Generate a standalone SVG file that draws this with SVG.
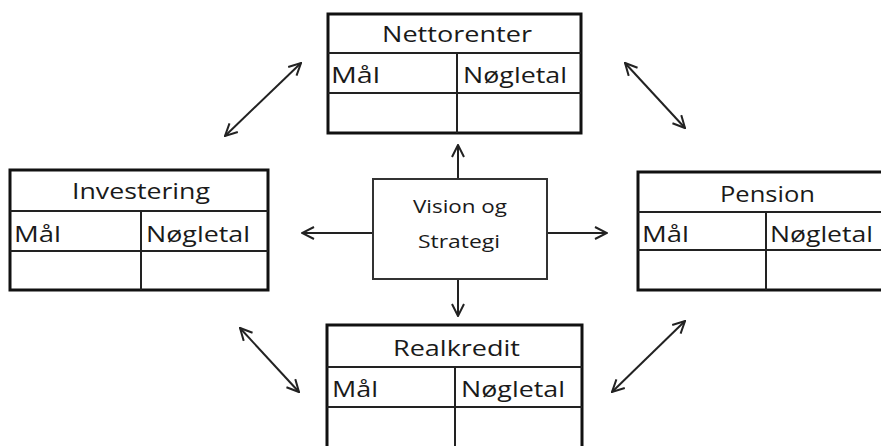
<svg xmlns="http://www.w3.org/2000/svg" width="881" height="446" viewBox="0 0 881 446">
  <style>
    .frame { fill: #fff; stroke: #111; stroke-width: 3; }
    .grid { stroke: #222; stroke-width: 2; fill: none; }
    .hub { fill: #fff; stroke: #333; stroke-width: 2; }
    .head { font-family: "Open Sans", "Liberation Sans", sans-serif; font-size: 21px; fill: #1a1a1a; }
    .cell { font-family: "Open Sans", "Liberation Sans", sans-serif; font-size: 21px; fill: #1a1a1a; }
    .hubtext { font-family: "Open Sans", "Liberation Sans", sans-serif; font-size: 18px; fill: #1a1a1a; }
    .link { stroke: #222; stroke-width: 2; fill: none; }
  </style>
  <defs>
    <marker id="open" viewBox="0 0 14 14" refX="13" refY="7" markerWidth="14" markerHeight="14" markerUnits="userSpaceOnUse" orient="auto-start-reverse">
      <path d="M1,1 L13,7 L1,13" fill="none" stroke="#222" stroke-width="2"/>
    </marker>
  </defs>
  <rect width="881" height="446" fill="#fff"/>

  <g id="connectors">
    <line class="link" x1="458" y1="179" x2="458" y2="145" marker-end="url(#open)"/>
    <line class="link" x1="458" y1="279" x2="458" y2="316" marker-end="url(#open)"/>
    <line class="link" x1="547" y1="233" x2="607" y2="233" marker-end="url(#open)"/>
    <line class="link" x1="373" y1="233" x2="302" y2="233" marker-end="url(#open)"/>
    <line class="link" x1="225" y1="136" x2="301" y2="63" marker-start="url(#open)" marker-end="url(#open)"/>
    <line class="link" x1="625" y1="63" x2="685" y2="128" marker-start="url(#open)" marker-end="url(#open)"/>
    <line class="link" x1="240" y1="328" x2="299" y2="392" marker-start="url(#open)" marker-end="url(#open)"/>
    <line class="link" x1="612" y1="392" x2="685" y2="321" marker-start="url(#open)" marker-end="url(#open)"/>
  </g>

  <g id="vision">
    <rect class="hub" x="373" y="179" width="174" height="100"/>
    <text class="hubtext" x="413" y="213" textLength="94" lengthAdjust="spacingAndGlyphs">Vision og</text>
    <text class="hubtext" x="418" y="248" textLength="82" lengthAdjust="spacingAndGlyphs">Strategi</text>
  </g>

  <g id="nettorenter">
    <rect class="frame" x="328" y="14" width="253" height="119"/>
    <path class="grid" d="M328,53 H581 M328,93 H581 M457,53 V133"/>
    <text class="head" x="382" y="42" textLength="150" lengthAdjust="spacingAndGlyphs">Nettorenter</text>
    <text class="cell" x="331" y="83" textLength="49" lengthAdjust="spacingAndGlyphs">Mål</text>
    <text class="cell" x="463" y="83" textLength="104" lengthAdjust="spacingAndGlyphs">Nøgletal</text>
  </g>

  <g id="investering">
    <rect class="frame" x="10" y="170" width="258" height="120"/>
    <path class="grid" d="M10,211 H268 M10,251 H268 M141,211 V290"/>
    <text class="head" x="72" y="199" textLength="138" lengthAdjust="spacingAndGlyphs">Investering</text>
    <text class="cell" x="14" y="242" textLength="47" lengthAdjust="spacingAndGlyphs">Mål</text>
    <text class="cell" x="146" y="242" textLength="104" lengthAdjust="spacingAndGlyphs">Nøgletal</text>
  </g>

  <g id="pension">
    <rect class="frame" x="638" y="172" width="250" height="118"/>
    <path class="grid" d="M638,212 H888 M638,250 H888 M766,212 V290"/>
    <text class="head" x="720" y="202" textLength="95" lengthAdjust="spacingAndGlyphs">Pension</text>
    <text class="cell" x="642" y="242" textLength="47" lengthAdjust="spacingAndGlyphs">Mål</text>
    <text class="cell" x="770" y="242" textLength="103" lengthAdjust="spacingAndGlyphs">Nøgletal</text>
  </g>

  <g id="realkredit">
    <rect class="frame" x="327" y="325" width="255" height="130"/>
    <path class="grid" d="M327,367 H582 M327,407 H582 M455,367 V455"/>
    <text class="head" x="393" y="356" textLength="127" lengthAdjust="spacingAndGlyphs">Realkredit</text>
    <text class="cell" x="332" y="397" textLength="46" lengthAdjust="spacingAndGlyphs">Mål</text>
    <text class="cell" x="461" y="397" textLength="104" lengthAdjust="spacingAndGlyphs">Nøgletal</text>
  </g>
</svg>
